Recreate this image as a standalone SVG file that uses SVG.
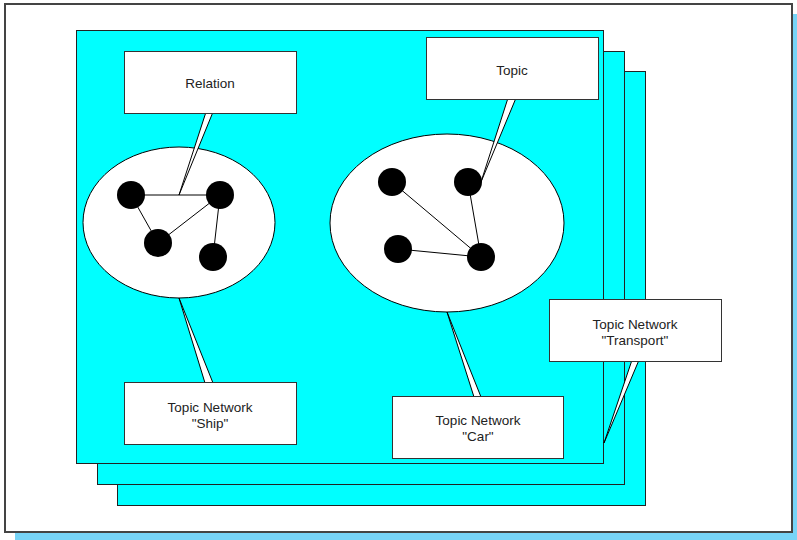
<svg xmlns="http://www.w3.org/2000/svg" width="797" height="540" viewBox="0 0 797 540">
<style>
.page{fill:#00FFFF;stroke:#222;stroke-width:1}
.box{fill:#fff;stroke:#333;stroke-width:1}
.ell{fill:#fff;stroke:#000;stroke-width:1}
.ptr{fill:#fff;stroke:#000;stroke-width:1;stroke-linejoin:miter}
.dot{fill:#000}
.edge{stroke:#000;stroke-width:1;fill:none}
text{font-family:"Liberation Sans",Arial,sans-serif;font-size:13.5px;fill:#222;text-anchor:middle}
</style>
<g id="frame">
<rect x="15" y="14" width="782" height="526" fill="#77D4F7"/>
<rect x="5" y="4" width="787" height="528" fill="#fff" stroke="#444" stroke-width="2"/>
</g>
<g id="pages">
<rect class="page" x="117.5" y="71.5" width="528" height="434"/>
<rect class="page" x="97.5" y="51.5" width="527" height="433"/>
<rect class="page" x="76.5" y="30.5" width="527" height="433"/>
</g>
<g id="ship-network">
<ellipse class="ell" cx="179" cy="222.5" rx="96" ry="75.5"/>
</g>
<g id="car-network">
<ellipse class="ell" cx="447" cy="223" rx="117" ry="89"/>
</g>
<g id="connectors">
<line class="edge" x1="131" y1="195" x2="220" y2="195"/>
<line class="edge" x1="131" y1="195" x2="158" y2="243"/>
<line class="edge" x1="158" y1="243" x2="220" y2="195"/>
<line class="edge" x1="220" y1="195" x2="213" y2="257"/>
<line class="edge" x1="392" y1="182" x2="481" y2="257"/>
<line class="edge" x1="468" y1="182" x2="481" y2="257"/>
<line class="edge" x1="398" y1="249" x2="481" y2="257"/>
</g>
<g id="topics">
<circle class="dot" cx="131" cy="195" r="14"/>
<circle class="dot" cx="220" cy="195" r="14"/>
<circle class="dot" cx="158" cy="243" r="14"/>
<circle class="dot" cx="213" cy="257" r="14"/>
<circle class="dot" cx="392" cy="182" r="14"/>
<circle class="dot" cx="468" cy="182" r="14"/>
<circle class="dot" cx="398" cy="249" r="14"/>
<circle class="dot" cx="481" cy="257" r="14"/>
</g>
<g id="callout-relation">
<polygon class="ptr" points="206,112 213,112 179,195"/>
<rect class="box" x="124.5" y="51.5" width="172" height="62"/>
<text x="210" y="88">Relation</text>
</g>
<g id="callout-topic">
<polygon class="ptr" points="508,98 516,98 481,182"/>
<rect class="box" x="426.5" y="37.5" width="172" height="62"/>
<text x="512" y="75">Topic</text>
</g>
<g id="callout-ship">
<polygon class="ptr" points="179,298 205,383 213,383"/>
<rect class="box" x="124.5" y="382.5" width="172" height="62"/>
<text x="210" y="412">Topic Network</text>
<text x="210" y="428">"Ship"</text>
</g>
<g id="callout-car">
<polygon class="ptr" points="447,312 474,397 481,397"/>
<rect class="box" x="392.5" y="396.5" width="171" height="62"/>
<text x="478" y="425">Topic Network</text>
<text x="478" y="441">"Car"</text>
</g>
<g id="callout-transport">
<polygon class="ptr" points="632,360 639,360 604,443"/>
<rect class="box" x="549.5" y="299.5" width="172" height="62"/>
<text x="635" y="329">Topic Network</text>
<text x="635" y="345">"Transport"</text>
</g>
</svg>
